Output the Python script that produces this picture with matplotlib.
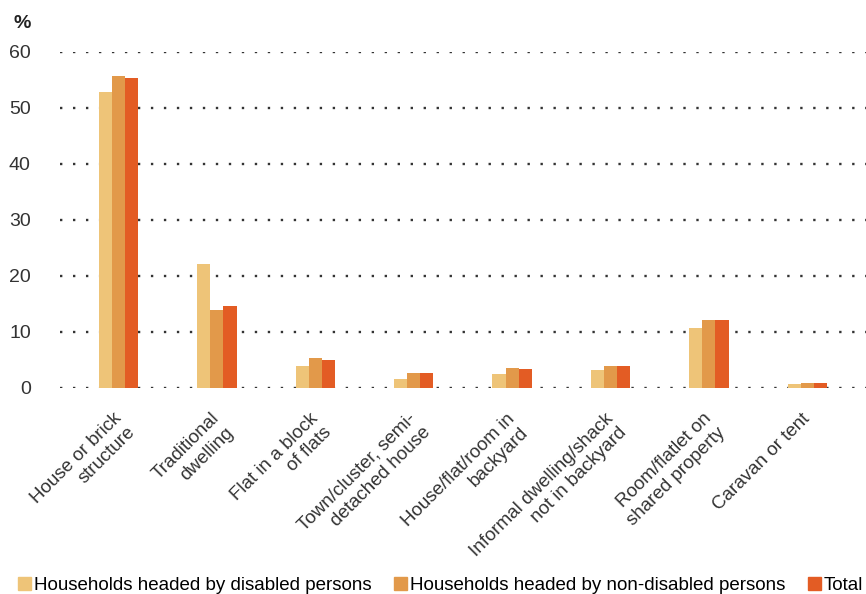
import numpy as np
import matplotlib.pyplot as plt
import matplotlib.transforms as mtransforms
from matplotlib.patches import Patch

plt.rcParams['font.family'] = ['Liberation Sans', 'DejaVu Sans']

categories = ["House or brick\nstructure", "Traditional\ndwelling", "Flat in a block\nof flats",
              "Town/cluster, semi-\ndetached house", "House/flat/room in\nbackyard",
              "Informal dwelling/shack\nnot in backyard", "Room/flatlet on\nshared property",
              "Caravan or tent"]
disabled = [52.9, 22.1, 3.9, 1.6, 2.5, 3.2, 10.7, 0.7]
non_disabled = [55.7, 13.9, 5.4, 2.7, 3.6, 3.9, 12.1, 0.9]
total = [55.4, 14.6, 5.0, 2.7, 3.4, 3.9, 12.1, 0.9]
series_names = ["Households headed by disabled persons",
                "Households headed by non-disabled persons", "Total"]
colors = ["#EEC478", "#E2994A", "#E35C24"]

fig = plt.figure(figsize=(8.66, 5.94), dpi=100)
ax = fig.add_axes([60 / 866, 1 - 388 / 594, 806 / 866, 336 / 594])

x = np.arange(len(categories))
w = 0.133
for i, (vals, c) in enumerate(zip([disabled, non_disabled, total], colors)):
    ax.bar(x + (i - 1) * w, vals, width=w, color=c, zorder=3)

ax.set_ylim(0, 60)
ax.set_xlim(-0.595, 7.597)
ax.set_yticks(range(0, 61, 10))
ax.yaxis.grid(True, color="#333333", linestyle=(0, (1, 4.5)), linewidth=1.7, zorder=0)
ax.tick_params(axis="y", length=0, pad=21, labelsize=14, labelcolor="#333333")
ax.tick_params(axis="x", length=0, pad=0, labelsize=13.5, labelcolor="#333333")
for s in ax.spines.values():
    s.set_visible(False)

# rotated category labels, right end of first line under the group
ax.set_xticks(x)
ax.set_xticklabels(categories, rotation=45, ha="right", rotation_mode="anchor",
                   multialignment="right")
offset = mtransforms.ScaledTranslation(-6 / 100, -22 / 100, fig.dpi_scale_trans)
for lbl in ax.get_xticklabels():
    lbl.set_transform(lbl.get_transform() + offset)

fig.text(13 / 866, 1 - 24 / 594, "%", fontsize=14, fontweight="bold",
         color="#222222", va="center")

handles = [Patch(color=c) for c in colors]
fig.legend(handles, series_names, loc="lower left", bbox_to_anchor=(0.008, -0.019),
           ncol=3, frameon=False, fontsize=13.5, handlelength=0.7, handleheight=0.7,
           handletextpad=0.15, columnspacing=1.2, borderaxespad=0.2)

fig.savefig("out.png", dpi=100)
